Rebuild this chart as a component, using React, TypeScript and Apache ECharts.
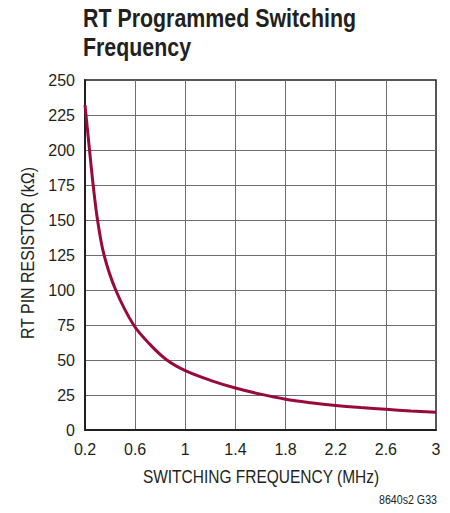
import React, { useEffect, useRef } from "react";
import * as echarts from "echarts";

const freqMHz = [0.2, 0.236, 0.265, 0.3, 0.352, 0.445, 0.588, 0.72, 0.853, 1.0, 1.2, 1.4, 1.6, 1.8, 2.0, 2.2, 2.4, 2.6, 2.8, 3.0];
const rtKOhm = [232, 200, 175, 150, 125, 100, 75, 61, 50, 42.4, 35.5, 30, 25.6, 22, 19.5, 17.5, 16, 14.8, 13.6, 12.6];
const xTicks = [0.2, 0.6, 1, 1.4, 1.8, 2.2, 2.6, 3];
const titleLines = ["RT Programmed Switching", "Frequency"];
const xName = "SWITCHING FREQUENCY (MHz)";
const yName = "RT PIN RESISTOR (kΩ)";
const footnote = "8640s2 G33";

const FONT = "'Liberation Sans', Arial, sans-serif";
const INK = "#231f20";

export default function App() {
  const ref = useRef<HTMLDivElement>(null);
  useEffect(() => {
    const chart = echarts.init(ref.current!, null, { renderer: "svg" });
    chart.setOption({
      animation: false,
      backgroundColor: "#ffffff",
      graphic: [
        ...titleLines.map((t, i) => ({
          type: "text",
          x: 83,
          y: 6 + i * 29,
          scaleX: 0.855,
          style: { text: t, font: `bold 25px ${FONT}`, fill: INK, textAlign: "left", textVerticalAlign: "top" },
        })),
        {
          type: "text",
          x: 261,
          y: 476,
          scaleX: 0.815,
          style: { text: xName, font: `19px ${FONT}`, fill: INK, textAlign: "center", textVerticalAlign: "middle" },
        },
        {
          type: "text",
          x: 28,
          y: 253,
          rotation: Math.PI / 2,
          scaleX: 0.885,
          style: { text: yName, font: `18px ${FONT}`, fill: INK, textAlign: "center", textVerticalAlign: "middle" },
        },
        {
          type: "text",
          x: 437,
          y: 500,
          scaleX: 0.82,
          style: { text: footnote, font: `13px ${FONT}`, fill: INK, textAlign: "right", textVerticalAlign: "middle" },
        },
      ],
      grid: {
        left: 85,
        top: 80,
        right: 14,
        bottom: 83,
        show: true,
        borderColor: INK,
        borderWidth: 1.5,
      },
      xAxis: {
        type: "value",
        min: 0.2,
        max: 3,
        axisLine: { show: true, lineStyle: { color: INK, width: 2 } },
        axisTick: { show: false, customValues: xTicks },
        axisLabel: {
          customValues: xTicks,
          fontFamily: FONT,
          fontSize: 16,
          color: INK,
          margin: 11,
          formatter: (v: number) => String(Math.round(v * 10) / 10),
        },
        splitLine: { show: true, showMinLine: false, showMaxLine: false, lineStyle: { color: "#6d6e71", width: 1 } },
      },
      yAxis: {
        type: "value",
        min: 0,
        max: 250,
        interval: 25,
        axisLine: { show: true, lineStyle: { color: INK, width: 2 } },
        axisTick: { show: false },
        axisLabel: { fontFamily: FONT, fontSize: 16, color: INK, margin: 10 },
        splitLine: { show: true, showMinLine: false, showMaxLine: false, lineStyle: { color: "#6d6e71", width: 1 } },
      },
      series: [
        {
          type: "line",
          data: freqMHz.map((f, i) => [f, rtKOhm[i]]),
          smooth: 0.35,
          showSymbol: false,
          lineStyle: { color: "#990a3c", width: 3 },
        },
      ],
    });
    return () => chart.dispose();
  }, []);
  return <div ref={ref} style={{ width: 450, height: 513, margin: -8 }} />;
}
